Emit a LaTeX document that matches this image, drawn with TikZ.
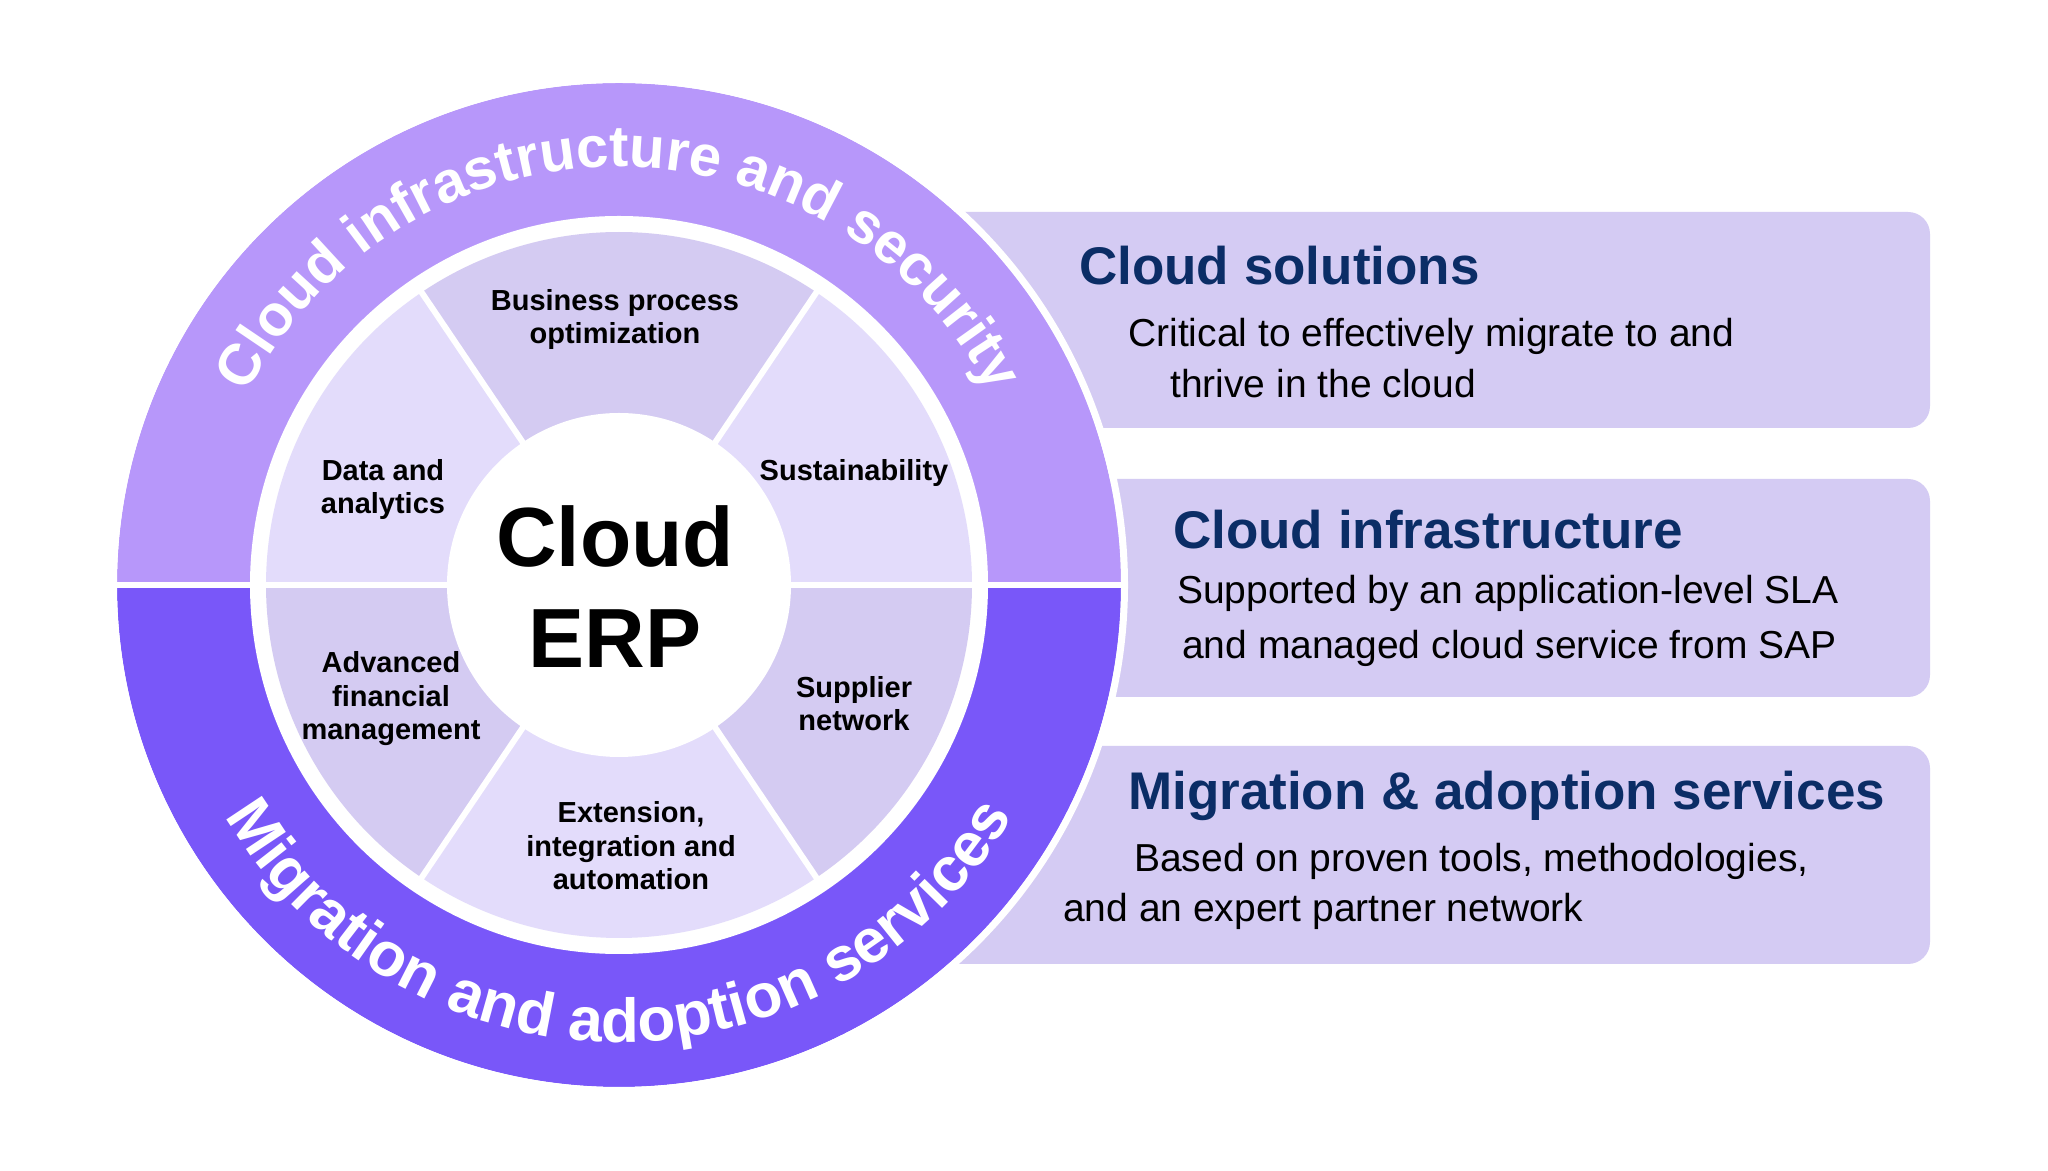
\documentclass[tikz,border=0pt]{standalone}
\usepackage{fontspec}
\setmainfont{Liberation Sans}
\usetikzlibrary{decorations.text}
\definecolor{bandup}{HTML}{B797FA}
\definecolor{banddown}{HTML}{7957F9}
\definecolor{boxfill}{HTML}{D4CBF3}
\definecolor{segdark}{HTML}{D4CBF2}
\definecolor{seglight}{HTML}{E3DCFB}
\definecolor{navy}{HTML}{0B2D66}
\begin{document}
\begin{tikzpicture}[x=1pt,y=1pt,
  infobox/.style={fill=boxfill, rounded corners=22pt},
  seglabel/.style={font=\bfseries\fontsize{29}{33.6}\selectfont, align=center, inner sep=0pt, anchor=base, text=black},
  titletext/.style={font=\bfseries\fontsize{53}{60}\selectfont, text=navy, inner sep=0pt, anchor=base west},
  bodytext/.style={font=\fontsize{39}{46}\selectfont, text=black, inner sep=0pt, anchor=base west},
  erptext/.style={font=\bfseries\fontsize{84}{101}\selectfont, inner sep=0pt, anchor=base, text=black},
  divider/.style={white, line width=6pt},
  ringtext/.style 2 args={decorate, decoration={text along path, text align=center, text color=white, text={|\bfseries\fontsize{#1}{#1}\selectfont|#2}}}
]
\useasboundingbox (0,0) rectangle (2048,1170);
\fill[white] (0,0) rectangle (2048,1170);
% info boxes
\path[infobox] (930,742) rectangle (1930,958);
\path[infobox] (930,473) rectangle (1930,691);
\path[infobox] (930,206) rectangle (1930,424);
% outer band
\coordinate (c) at (619,585);
\fill[bandup] (c) -- ++(0:502) arc[start angle=0,end angle=180,radius=502] -- cycle;
\fill[banddown] (c) -- ++(180:502) arc[start angle=180,end angle=360,radius=502] -- cycle;
\draw[white, line width=7pt] (c) circle[radius=505.5];
\fill[white] (c) circle[radius=369];
% segments
\fill[seglight] (c) -- ++(0:353) arc[start angle=0,end angle=56,radius=353] -- cycle;
\fill[segdark] (c) -- ++(56:353) arc[start angle=56,end angle=124,radius=353] -- cycle;
\fill[seglight] (c) -- ++(124:353) arc[start angle=124,end angle=180,radius=353] -- cycle;
\fill[segdark] (c) -- ++(180:353) arc[start angle=180,end angle=236,radius=353] -- cycle;
\fill[seglight] (c) -- ++(236:353) arc[start angle=236,end angle=304,radius=353] -- cycle;
\fill[segdark] (c) -- ++(304:353) arc[start angle=304,end angle=360,radius=353] -- cycle;
\draw[divider] (c) ++(180:509) -- ++(1018,0);
\foreach \a in {56,124,236,304} \draw[divider] (c) -- ++(\a:362);
\fill[white] (c) circle[radius=172];
% ring texts
\path[ringtext={58}{Cloud infrastructure and security}] (c) ++(160:418) arc[start angle=160,end angle=20,radius=418];
\path[ringtext={62}{Migration and adoption services}] (c) ++(195:457) arc[start angle=195,end angle=345,radius=457];
% center
\node[erptext] (erp1) at (615,603) {Cloud};
\node[erptext] (erp2) at (615,502) {ERP};
% segment labels (base = last line)
\node[seglabel] (bpo) at (615,826) {Business process\\optimization};
\node[seglabel] (data) at (383,656) {Data and\\analytics};
\node[seglabel] (sust) at (854,689) {Sustainability};
\node[seglabel] (afm) at (391,430) {Advanced\\financial\\management};
\node[seglabel] (supp) at (854,439) {Supplier\\network};
\node[seglabel] (ext) at (631,280) {Extension,\\integration and\\automation};
% box texts
\node[titletext] (t1) at (1079,885) {Cloud solutions};
\node[bodytext] (b1a) at (1128,823) {Critical to effectively migrate to and};
\node[bodytext] (b1b) at (1170,772) {thrive in the cloud};
\node[titletext] (t2) at (1173,621) {Cloud infrastructure};
\node[bodytext] (b2a) at (1177,566) {Supported by an application-level SLA};
\node[bodytext] (b2b) at (1182,511) {and managed cloud service from SAP};
\node[titletext] (t3) at (1128,360) {Migration \& adoption services};
\node[bodytext] (b3a) at (1134,298) {Based on proven tools, methodologies,};
\node[bodytext] (b3b) at (1063,248) {and an expert partner network};
\end{tikzpicture}
\end{document}
